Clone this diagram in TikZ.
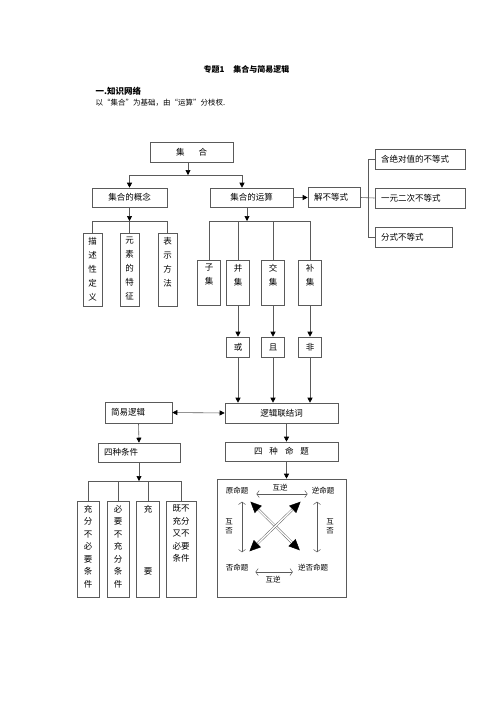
\documentclass[tikz,border=0pt]{standalone}
\usepackage{fontspec}
\setmainfont{Noto Sans CJK SC}
\usetikzlibrary{arrows.meta}
\definecolor{linegray}{RGB}{90,90,90}
% upright column of characters, text on top
\newcommand{\vtext}[4]{\parbox[c][#2][t]{#1}{\centering\fontsize{8.5}{#3}\selectfont\vspace{4pt}#4}}
\tikzset{
  box/.style={draw=linegray, line width=0.6pt, inner sep=0pt, minimum height=19pt, font=\fontsize{8.5}{10}\selectfont},
  lbox/.style={box, align=left, inner xsep=6pt},
  col/.style={draw=linegray, line width=0.6pt, inner sep=0pt},
  link/.style={draw=linegray, line width=0.6pt},
  arr/.style={link, -{Triangle[length=5pt,width=5pt,color=black]}},
  biarr/.style={draw=linegray, line width=0.5pt, {Straight Barb[length=2.5pt,width=7pt]}-{Straight Barb[length=2.5pt,width=7pt]}},
  dbl/.style={draw=linegray, double=white, double distance=1.4pt, line width=0.45pt, {Triangle[length=11pt,width=10pt,color=black]}-{Triangle[length=11pt,width=10pt,color=black]}},
  small/.style={inner sep=2pt, font=\fontsize{7.5}{9}\selectfont}
}
\begin{document}
\begin{tikzpicture}[x=1pt, y=-1pt]
\useasboundingbox (0,0) rectangle (496,702);

\node[anchor=west, font=\bfseries\fontsize{8}{10}\selectfont] (T) at (200,69) {专题1\hspace{9pt}集合与简易逻辑};
\node[anchor=west, font=\bfseries\fontsize{8.5}{10}\selectfont] (H) at (92,91) {一.知识网络};
\node[anchor=west, font=\fontsize{7.5}{10}\selectfont] (S) at (92,103) {以“集合”为基础，由“运算”分枝杈.};

% top part
\node[box, minimum width=83pt, minimum height=20pt] (J) at (191.5,152) {集\hspace{14pt}合};
\node[box, minimum width=75pt] (GN) at (129.5,197.5) {集合的概念};
\node[box, minimum width=83pt] (YS) at (251.5,197.5) {集合的运算};
\node[lbox, text width=40pt, minimum height=20pt] (JB) at (334,197.5) {解不等式};
\node[lbox, text width=78pt, minimum height=20pt] (JD) at (420,159) {含绝对值的不等式};
\node[lbox, text width=78pt, minimum height=20pt] (YE) at (420,198) {一元二次不等式};
\node[lbox, text width=65pt, minimum height=20pt] (FS) at (413.5,237) {分式不等式};

\coordinate (B1) at (188,175);
\coordinate (B1r) at (242,175);
\draw[arr] (J.south -| B1) -- (B1);
\draw[link] (GN.north |- B1) -- (B1r);
\draw[arr] (GN.north |- B1) -- (GN.north);
\draw[arr] (B1r) -- (YS.north -| B1r);
\draw[arr] (YS.east) -- (JB.west);

\coordinate (R1) at (368,159);
\coordinate (R2) at (368,237);
\draw[link] (JB.east) -- (YE.west);
\draw[link] (JD.west) -- (R1) -- (R2) -- (FS.west);

% concept
\node[col] (MS) at (92.5,269.5) {\vtext{19pt}{73pt}{14}{描\\述\\性\\定\\义}};
\node[col] (YT) at (129.5,269.5) {\vtext{19pt}{73pt}{14}{元\\素\\的\\特\\征}};
\node[col] (BS) at (167.5,269.5) {\vtext{19pt}{73pt}{14}{表\\示\\方\\法}};

\coordinate (B2) at (129.5,221);
\draw[arr] (GN.south) -- (B2);
\draw[link] (MS.north) -- (MS.north |- B2) -- (BS.north |- B2) -- (BS.north);
\draw[link] (YT.north) -- (YT.north |- B2);

% operations
\node[col] (ZJ) at (209,282.5) {\vtext{23pt}{45pt}{14}{子\\集}};
\node[col] (BJ) at (238,282.5) {\vtext{23pt}{45pt}{14}{并\\集}};
\node[col] (JJ) at (273,282.5) {\vtext{23pt}{45pt}{14}{交\\集}};
\node[col] (BU) at (310,282.5) {\vtext{23pt}{45pt}{14}{补\\集}};

\coordinate (B3) at (247,221);
\draw[arr] (YS.south -| B3) -- (B3);
\draw[link] (ZJ.north) -- (ZJ.north |- B3) -- (BU.north |- B3) -- (BU.north);
\draw[link] (BJ.north) -- (BJ.north |- B3);
\draw[link] (JJ.north) -- (JJ.north |- B3);

\node[box, minimum width=23pt, minimum height=20pt] (HU) at (238,347) {或};
\node[box, minimum width=23pt, minimum height=20pt] (QI) at (273,347) {且};
\node[box, minimum width=23pt, minimum height=20pt] (FE) at (310,347) {非};

\draw[arr] (BJ.south) -- (HU.north);
\draw[arr] (JJ.south) -- (QI.north);
\draw[arr] (BU.south) -- (FE.north);

% logic
\node[box, minimum width=113pt, minimum height=20pt] (LJ) at (281.5,413) {逻辑联结词};
\node[lbox, text width=55pt, minimum height=21pt] (JY) at (138.5,412.5) {简易逻辑};
\node[lbox, text width=70pt] (SZ) at (139,452.5) {四种条件};
\node[box, minimum width=113pt] (MT) at (281.5,451.5) {四\hspace{7pt}种\hspace{7pt}命\hspace{7pt}题};

\draw[arr] (HU.south) -- (HU.south |- LJ.north);
\draw[arr] (QI.south) -- (QI.south |- LJ.north);
\draw[arr] (FE.south) -- (FE.south |- LJ.north);
\draw[link, {Triangle[length=5pt,width=5pt,color=black]}-{Triangle[length=5pt,width=5pt,color=black]}] (JY.east) -- (LJ.west);
\draw[arr] (JY.south) -- (SZ.north);
\draw[arr] ([xshift=5pt]LJ.south) -- ([xshift=5pt]MT.north);

% conditions
\node[col] (C1) at (88,549) {\vtext{22pt}{96pt}{12.5}{充\\分\\不\\必\\要\\条\\件}};
\node[col] (C2) at (118,549) {\vtext{22pt}{96pt}{12.5}{必\\要\\不\\充\\分\\条\\件}};
\node[col] (C3) at (148,549) {\vtext{23pt}{96pt}{12.5}{充\\[50pt]要}};
\node[col] (C4) at (181,549) {\vtext{30pt}{96pt}{12.5}{既不\\充分\\又不\\必要\\条件}};

\coordinate (B4) at (139,481);
\draw[arr] (SZ.south) -- (B4);
\draw[link] (C1.north) -- (C1.north |- B4) -- (C4.north |- B4) -- (C4.north);
\draw[link] (C2.north) -- (C2.north |- B4);
\draw[link] (C3.north) -- (C3.north |- B4);

% four propositions
\node[col, minimum width=129pt, minimum height=118pt] (SM) at (281.5,538) {};
\draw[arr] ([xshift=5pt]MT.south) -- ([xshift=5pt]MT.south |- SM.north);

\node[small] (YM) at (237,491) {原命题};
\node[small] (NM) at (323,491) {逆命题};
\node[small] (FM) at (237,568) {否命题};
\node[small] (NF) at (313,568) {逆否命题};

\draw[biarr, shorten <=6pt, shorten >=2pt] ([yshift=-3pt]YM.east) -- ([yshift=-3pt]NM.west) node[small, midway, above, yshift=1pt] {互逆};
\draw[biarr, shorten <=5pt, shorten >=3pt] ([yshift=-4pt]FM.east) -- ([yshift=-4pt]NF.west) node[small, midway, below, yshift=-2pt] {互逆};
\draw[biarr, shorten <=5pt, shorten >=10pt] ([xshift=5pt]YM.south) -- ([xshift=5pt]FM.north) node[small, midway, left=7pt, align=center, yshift=3pt] {互\\否};
\draw[biarr, shorten <=5pt, shorten >=10pt] ([xshift=-6pt]NM.south) -- ([xshift=4pt]NF.north) node[small, midway, right=7pt, align=center, yshift=3pt] {互\\否};

\draw[dbl] ([yshift=-5pt]YM.south east) -- ([shift={(4pt,12pt)}]NF.north west);
\draw[dbl] ([shift={(-9pt,-5pt)}]NM.south west) -- ([shift={(-1pt,11pt)}]FM.north east);
\end{tikzpicture}
\end{document}
